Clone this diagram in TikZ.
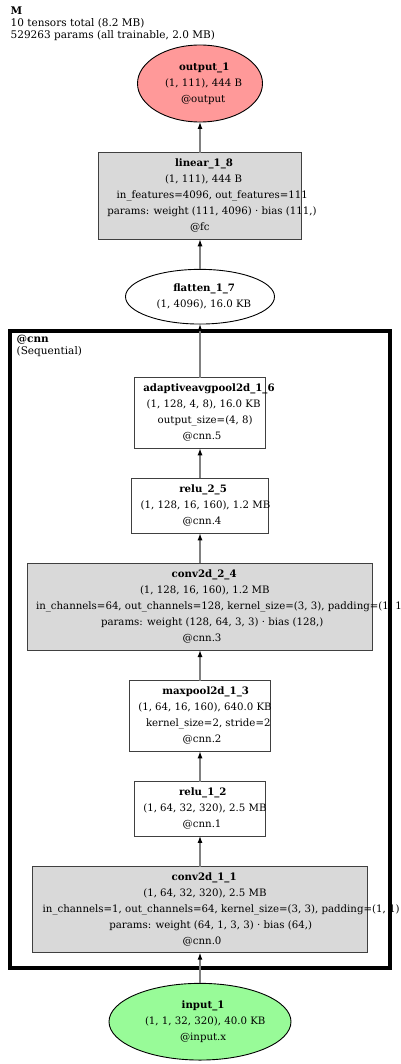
\documentclass[tikz,border=0pt]{standalone}
\usepackage{fontspec}
\setmainfont{DejaVu Serif}
\usetikzlibrary{arrows.meta,shapes.geometric}
\definecolor{outred}{RGB}{255,153,153}
\definecolor{ingreen}{RGB}{152,251,152}
\definecolor{boxgray}{RGB}{217,217,217}
\newcommand\Ln[2]{\makebox[0pt][l]{\kern#1pt#2}}
\begin{document}
\begin{tikzpicture}[x=1pt,y=-1pt,
  every node/.style={inner sep=0pt, outer sep=0pt, font=\fontsize{10.2}{16}\selectfont, align=center, text=black},
  layer/.style={rectangle, draw=black!75, line width=0.9pt},
  param/.style={layer, fill=boxgray},
  plain/.style={layer, fill=white},
  oval/.style={ellipse, draw=black, line width=0.9pt},
  flow/.style={draw=gray, line width=1.2pt, -{Latex[length=7pt,width=5pt,color=black]}},
  cluster/.style={rectangle, draw=black, line width=4pt},
  hdr/.style={font=\fontsize{10.5}{11.6}\selectfont, align=left, anchor=base west}]
\useasboundingbox (0,0) rectangle (400,1064);
\node[hdr] (title) at (10.7,38.2) {\textbf{M}\\10 tensors total (8.2 MB)\\529263 params (all trainable, 2.0 MB)};
\node[cluster, minimum width=379.4pt, minimum height=637pt] (cnn) at (200,649.8) {};
\node[hdr] (cnnlbl) at (16.7,354.3) {\textbf{@cnn}\\(Sequential)};
\node[oval, fill=outred, minimum width=125pt, minimum height=77pt] (out) at (200,83.5)
  {\Ln{-21}{\textbf{output\_1}}\\\Ln{-35}{(1, 111), 444 B}\\\Ln{-19}{@output}};
\node[param, minimum width=203.4pt, minimum height=86.6pt] (lin) at (200,196)
  {\Ln{-25}{\textbf{linear\_1\_8}}\\\Ln{-35}{(1, 111), 444 B}\\\Ln{-83.3}{in\_features=4096, out\_features=111}\\\Ln{-92.7}{params: weight (111, 4096) · bias (111,)}\\\Ln{-10}{@fc}};
\node[oval, fill=white, minimum width=149pt, minimum height=54.7pt] (flat) at (200,296.7)
  {\Ln{-26.7}{\textbf{flatten\_1\_7}}\\\Ln{-43.3}{(1, 4096), 16.0 KB}};
\node[plain, minimum width=131pt, minimum height=70.6pt] (aap) at (200,413)
  {\Ln{-56.7}{\textbf{adaptiveavgpool2d\_1\_6}}\\\Ln{-53.3}{(1, 128, 4, 8), 16.0 KB}\\\Ln{-42.3}{output\_size=(4, 8)}\\\Ln{-17.3}{@cnn.5}};
\node[plain, minimum width=136.6pt, minimum height=55pt] (relu2) at (200,505.8)
  {\Ln{-20.7}{\textbf{relu\_2\_5}}\\\Ln{-59.3}{(1, 128, 16, 160), 1.2 MB}\\\Ln{-17.3}{@cnn.4}};
\node[param, minimum width=345.4pt, minimum height=86.7pt] (conv2) at (200,606.7)
  {\Ln{-28.3}{\textbf{conv2d\_2\_4}}\\\Ln{-60}{(1, 128, 16, 160), 1.2 MB}\\\Ln{-164}{in\_channels=64, out\_channels=128, kernel\_size=(3, 3), padding=(1, 1)}\\\Ln{-99}{params: weight (128, 64, 3, 3) · bias (128,)}\\\Ln{-17.3}{@cnn.3}};
\node[plain, minimum width=141pt, minimum height=70.6pt] (maxp) at (200,716)
  {\Ln{-37.7}{\textbf{maxpool2d\_1\_3}}\\\Ln{-61.7}{(1, 64, 16, 160), 640.0 KB}\\\Ln{-54}{kernel\_size=2, stride=2}\\\Ln{-17.3}{@cnn.2}};
\node[plain, minimum width=131.4pt, minimum height=54.3pt] (relu1) at (200,808.8)
  {\Ln{-21}{\textbf{relu\_1\_2}}\\\Ln{-56.7}{(1, 64, 32, 320), 2.5 MB}\\\Ln{-17.3}{@cnn.1}};
\node[param, minimum width=334.6pt, minimum height=86pt] (conv1) at (200,909.7)
  {\Ln{-28.3}{\textbf{conv2d\_1\_1}}\\\Ln{-56.7}{(1, 64, 32, 320), 2.5 MB}\\\Ln{-157.3}{in\_channels=1, out\_channels=64, kernel\_size=(3, 3), padding=(1, 1)}\\\Ln{-90.7}{params: weight (64, 1, 3, 3) · bias (64,)}\\\Ln{-17.3}{@cnn.0}};
\node[oval, fill=ingreen, minimum width=182pt, minimum height=76.7pt] (in) at (200,1021.7)
  {\Ln{-18.3}{\textbf{input\_1}}\\\Ln{-55}{(1, 1, 32, 320), 40.0 KB}\\\Ln{-20}{@input.x}};
\draw[flow] (in) -- (conv1);
\draw[flow] (conv1) -- (relu1);
\draw[flow] (relu1) -- (maxp);
\draw[flow] (maxp) -- (conv2);
\draw[flow] (conv2) -- (relu2);
\draw[flow] (relu2) -- (aap);
\draw[flow] (aap) -- (flat);
\draw[flow] (flat) -- (lin);
\draw[flow] (lin) -- (out);
\end{tikzpicture}
\end{document}
